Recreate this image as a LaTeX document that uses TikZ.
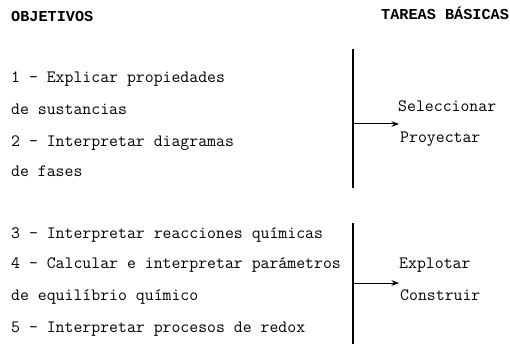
\documentclass[tikz,border=0pt]{standalone}
\usepackage{fontspec}
\newfontfamily\hdrfont{Liberation Mono}
\usetikzlibrary{arrows.meta}
\begin{document}
\begin{tikzpicture}[x=1pt,y=-1pt,
txt/.style={anchor=base west,inner sep=0pt,font=\fontsize{17.3}{20}\ttfamily},
hdr/.style={txt,font=\fontsize{15.2}{18}\hdrfont\bfseries},
bar/.style={line width=2pt},
arr/.style={-Stealth,line width=1pt}]
\useasboundingbox(0,0)rectangle(510,344);
\node[hdr](obj) at(11,22){OBJETIVOS};
\node[hdr](tar) at(381,20){TAREAS BÁSICAS};
% primer grupo
\node[txt](o1) at(11,83){1 - Explicar propiedades};
\node[txt](o1b) at(11,115){de sustancias};
\node[txt](o2) at(11,147){2 - Interpretar diagramas};
\node[txt](o2b) at(11,177){de fases};
\node[txt](sel) at(398,112){Seleccionar};
\node[txt](pro) at(400,143){Proyectar};
\coordinate(b1t) at(353,49);\coordinate(b1b) at(353,188);
\coordinate(b1m) at(353,124);\coordinate(a1) at(399,124);
\draw[bar](b1t)--(b1b);
\draw[arr](b1m)--(a1);
% segundo grupo
\node[txt](o3) at(11,238){3 - Interpretar reacciones químicas};
\node[txt](o4) at(11,268){4 - Calcular e interpretar parámetros};
\node[txt](o4b) at(11,300){de equilíbrio químico};
\node[txt](o5) at(11,332){5 - Interpretar procesos de redox};
\node[txt](exp) at(399,268){Explotar};
\node[txt](con) at(400,300){Construir};
\coordinate(b2t) at(353,223);\coordinate(b2b) at(353,344);
\coordinate(b2m) at(353,283);\coordinate(a2) at(399,283);
\draw[bar](b2t)--(b2b);
\draw[arr](b2m)--(a2);
\end{tikzpicture}
\end{document}
